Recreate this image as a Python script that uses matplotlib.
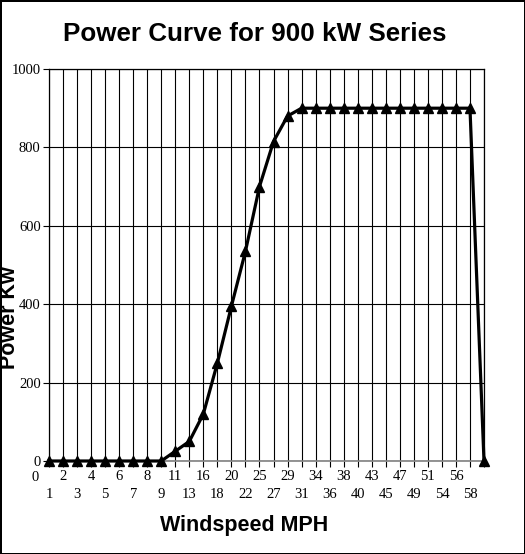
import matplotlib
matplotlib.use("Agg")
import matplotlib.pyplot as plt

# windspeed categories (last slot is unlabeled in the original)
windspeed = ["0", "1", "2", "3", "4", "5", "6", "7", "8", "9",
             "11", "13", "16", "18", "20", "22", "25", "27", "29", "31",
             "34", "36", "38", "40", "43", "45", "47", "49", "51", "54",
             "56", "58", ""]
# power output, kW, for categories 1..end
power_kw = [0, 0, 0, 0, 0, 0, 0, 0, 0,
            25, 50, 120, 250, 395, 535, 700, 815, 880, 900,
            900, 900, 900, 900, 900, 900, 900, 900, 900, 900,
            900, 900, 0]
y_ticks = [0, 200, 400, 600, 800, 1000]

serif = "Liberation Serif"
sans = "Liberation Sans"

fig = plt.figure(figsize=(5.25, 5.54), dpi=100)
fig.patch.set_edgecolor("black")
fig.patch.set_linewidth(2)
ax = fig.add_axes([49 / 525, 1 - 461 / 554, 435 / 525, 392 / 554])

x = list(range(1, len(power_kw) + 1))
ax.plot(x, power_kw, color="black", linewidth=2.3, marker="^",
        markersize=7, zorder=3, clip_on=False)

ax.set_xlim(1, len(windspeed) - 1)
ax.set_ylim(0, 1000)

# two-row category labels like the original
pos = list(range(1, len(windspeed)))
labels = [("\n" + windspeed[p]) if p % 2 else windspeed[p] for p in pos]
ax.set_xticks(pos)
ax.set_xticklabels(labels, fontfamily=serif, fontsize=10.5, linespacing=1.45)
ax.annotate(windspeed[0], xy=(0, 0), xycoords=("data", "axes fraction"),
            xytext=(0, -7.2), textcoords="offset points", ha="center",
            va="top", fontfamily=serif, fontsize=10.5, annotation_clip=False)

ax.set_yticks(y_ticks)
ax.set_yticklabels([str(v) for v in y_ticks], fontfamily=serif, fontsize=10.5)
ax.tick_params(axis="both", direction="out", length=4.5, width=0.8,
               pad=1.5, colors="black")
ax.tick_params(axis="x", pad=2.2)

ax.grid(True, color="black", linewidth=0.8)
ax.set_axisbelow(True)
for side in ["top", "left", "right"]:
    ax.spines[side].set_color("black")
    ax.spines[side].set_linewidth(0.9)
ax.spines["bottom"].set_color("#808080")
ax.spines["bottom"].set_linewidth(1.2)

fig.text(255 / 525, 1 - 34 / 554, "Power Curve for 900 kW Series",
         fontfamily=sans, fontweight="bold", fontsize=18.7,
         ha="center", va="center")
fig.text(244 / 525, 1 - 525 / 554, "Windspeed MPH", fontfamily=sans,
         fontweight="bold", fontsize=15.5, ha="center", va="center")
fig.text(10 / 525, 1 - 318 / 554, "Power Kw", fontfamily=sans,
         fontweight="bold", fontsize=15.5, rotation=90,
         ha="center", va="center")

fig.savefig("out.png", dpi=100)
